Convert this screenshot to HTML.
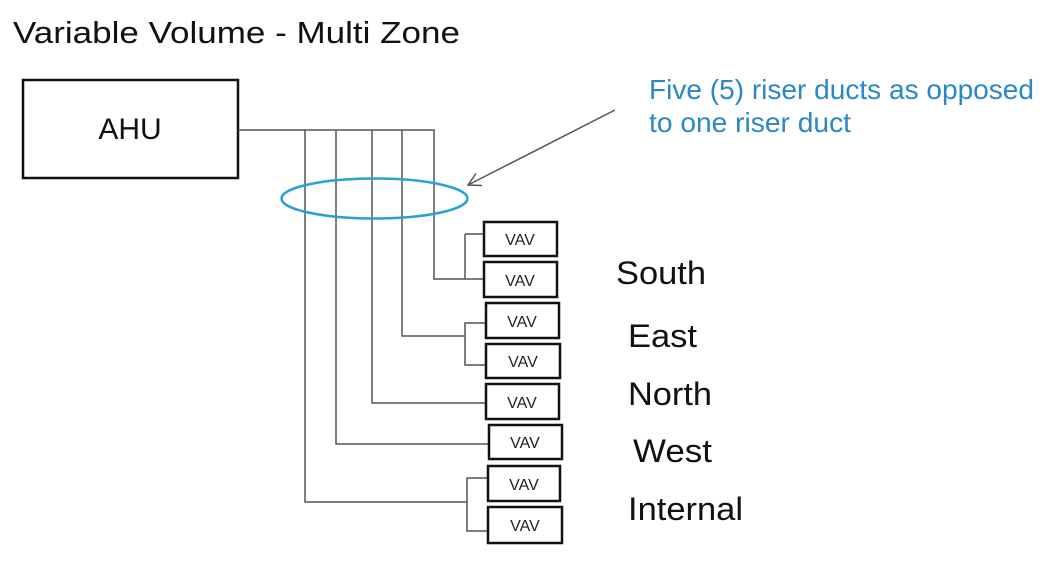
<!DOCTYPE html>
<html><head><style>body{margin:0;background:#fff}svg{font-family:"Liberation Sans",Arial,sans-serif}</style></head><body>
<svg width="1054" height="566" xmlns="http://www.w3.org/2000/svg">
<rect width="1054" height="566" fill="#fff"/>
<text x="13" y="43" font-size="31" fill="#111" textLength="447" lengthAdjust="spacingAndGlyphs">Variable Volume - Multi Zone</text>
<rect x="23" y="80" width="215" height="98" fill="none" stroke="#111" stroke-width="2.5"/>
<text x="130" y="139" font-size="30" text-anchor="middle" fill="#111">AHU</text>
<g stroke="#555" stroke-width="1.5" fill="none">
<polyline points="238,130 434,130 434,279 483,279"/>
<polyline points="465,234 483,234"/>
<line x1="465" y1="234" x2="465" y2="279"/>
<polyline points="402,130 402,336 465,336"/>
<polyline points="485,323 465,323 465,365 485,365"/>
<polyline points="372,130 372,403 485,403"/>
<polyline points="336,130 336,444 488,444"/>
<polyline points="305,130 305,502 467,502"/>
<polyline points="487,478 467,478 467,531 487,531"/>
<line x1="615" y1="110" x2="469" y2="184.5"/>
<polyline points="476,173.5 468,185 482,185.5"/>
</g>
<ellipse cx="374.5" cy="198.5" rx="93" ry="20" fill="none" stroke="#2a9fd8" stroke-width="2.5"/>
<g stroke="#111" stroke-width="2.5" fill="#fff">
<rect x="484" y="222" width="73" height="34"/>
<rect x="484" y="262" width="73" height="35"/>
<rect x="486" y="303" width="73" height="35"/>
<rect x="486" y="344" width="74" height="34"/>
<rect x="486" y="384" width="73" height="35"/>
<rect x="489" y="425" width="73" height="34"/>
<rect x="488" y="466" width="72" height="35"/>
<rect x="488" y="507" width="74" height="36"/>
</g>
<g font-size="16" fill="#222" text-anchor="middle">
<text x="520" y="245">VAV</text>
<text x="520" y="286">VAV</text>
<text x="522" y="327">VAV</text>
<text x="523" y="367">VAV</text>
<text x="522" y="408">VAV</text>
<text x="525" y="448">VAV</text>
<text x="524" y="490">VAV</text>
<text x="525" y="531">VAV</text>
</g>
<g fill="#2a87c8" font-size="28">
<text x="649" y="99" textLength="385" lengthAdjust="spacingAndGlyphs">Five (5) riser ducts as opposed</text>
<text x="649" y="132" textLength="202" lengthAdjust="spacingAndGlyphs">to one riser duct</text>
</g>
<g fill="#111" font-size="32">
<text x="616" y="284" textLength="90" lengthAdjust="spacingAndGlyphs">South</text>
<text x="628" y="347" textLength="69" lengthAdjust="spacingAndGlyphs">East</text>
<text x="628" y="405" textLength="84" lengthAdjust="spacingAndGlyphs">North</text>
<text x="633" y="462" textLength="79" lengthAdjust="spacingAndGlyphs">West</text>
<text x="628" y="520" textLength="115" lengthAdjust="spacingAndGlyphs">Internal</text>
</g>
</svg>
</body></html>
